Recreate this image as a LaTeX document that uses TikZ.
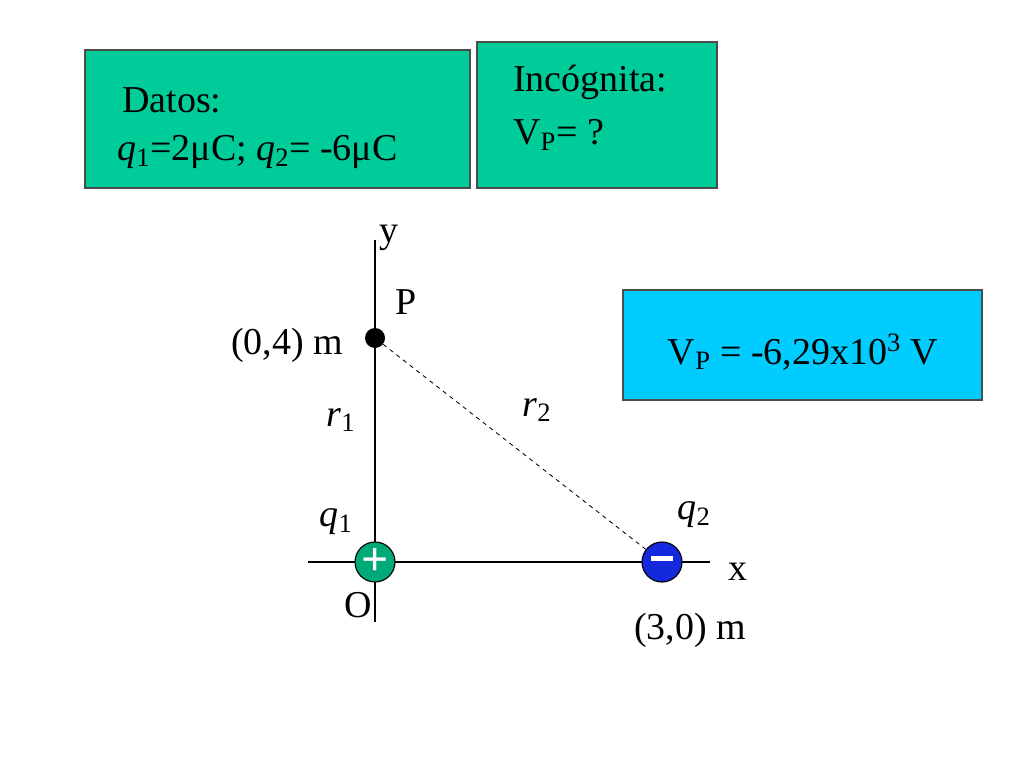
\documentclass[tikz,border=0pt]{standalone}
\usepackage{fontspec}
\setmainfont{Liberation Serif}
\begin{document}
\begin{tikzpicture}[
	x = 0.025cm, y = -0.025cm,
	box/.style={draw=black!70, line width=0.8pt},
	lbl/.style={font=\fontsize{27}{31}\selectfont, inner sep=0pt},
	charge/.style={circle, draw=black, line width=0.8pt, minimum size=1cm, inner sep=0pt, text=white, font=\fontsize{34}{34}\selectfont\bfseries},
	]
	\useasboundingbox (0,0) rectangle (1024,768);

	% data boxes
	\draw[box, fill={rgb,255:red,0;green,204;blue,153}] (85,50) rectangle (470,188);
	\draw[box, fill={rgb,255:red,0;green,204;blue,153}] (477,42) rectangle (717,188);
	\draw[box, fill={rgb,255:red,0;green,204;blue,255}] (623,290) rectangle (982,400);
	\node[lbl, anchor=west] (datos) at (122,100) {Datos:};
	\node[lbl, anchor=west] (dval) at (117,152) {\textit{q}\textsubscript{1}=2μC; \textit{q}\textsubscript{2}= -6μC};
	\node[lbl, anchor=west] (inc) at (513,82) {Incógnita:};
	\node[lbl, anchor=west] (inv) at (513,135) {V\textsubscript{P}= ?};
	\node[lbl] (res) at (803,352) {V\textsubscript{P} = -6,29x10\textsuperscript{3} V};

	% axes
	\coordinate (ytop) at (375,240);
	\coordinate (ybot) at (375,622);
	\coordinate (xl) at (308,562);
	\coordinate (xr) at (710,562);
	\draw[line width=1pt] (ytop) -- (ybot);
	\draw[line width=1pt] (xl) -- (xr);

	% point and charges
	\node[circle, fill=black, minimum size=5mm, inner sep=0pt] (P) at (375,338) {};
	\node[charge, fill={rgb,255:red,0;green,170;blue,120}] (q1) at (375,562) {+};
	\node[charge, fill={rgb,255:red,20;green,40;blue,220}] (q2) at (662,562) {\rule[0.15em]{0.45em}{0.12em}};
	\draw[dashed, line width=0.6pt] (P) -- (q2);

	% labels
	\node[lbl] (ly) at (389,238) {y};
	\node[lbl] (lP) at (406,302) {P};
	\node[lbl] (lpc) at (287,345) {(0,4) m};
	\node[lbl] (lr1) at (341,420) {\textit{r}\textsubscript{1}};
	\node[lbl] (lr2) at (537,410) {\textit{r}\textsubscript{2}};
	\node[lbl] (lq1) at (336,522) {\textit{q}\textsubscript{1}};
	\node[lbl] (lq2) at (694,515) {\textit{q}\textsubscript{2}};
	\node[lbl] (lx) at (738,572) {x};
	\node[lbl] (lO) at (358,605) {O};
	\node[lbl] (lqc) at (690,630) {(3,0) m};
\end{tikzpicture}
\end{document}
